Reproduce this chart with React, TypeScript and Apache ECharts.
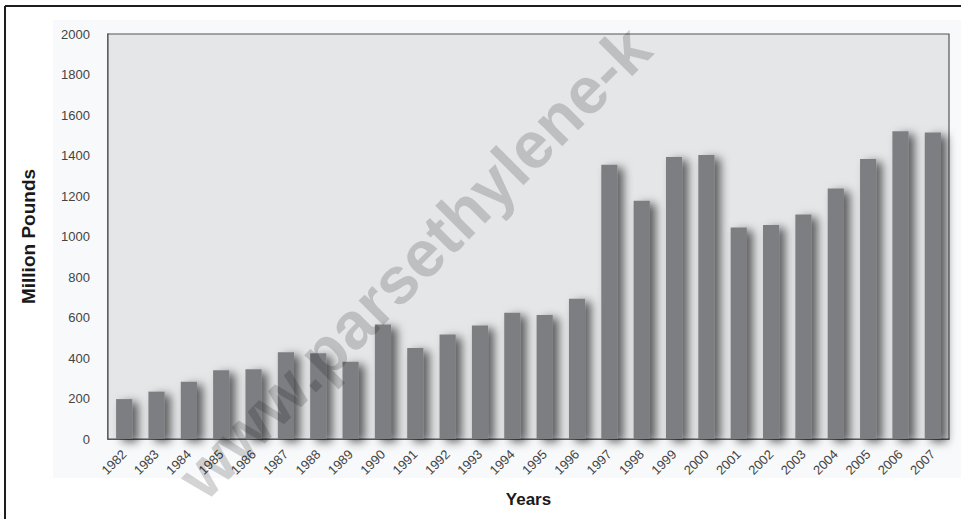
import React, { useEffect, useRef } from "react";
import * as echarts from "echarts";

const years = [
  "1982", "1983", "1984", "1985", "1986", "1987", "1988", "1989", "1990",
  "1991", "1992", "1993", "1994", "1995", "1996", "1997", "1998", "1999",
  "2000", "2001", "2002", "2003", "2004", "2005", "2006", "2007",
];
const values = [
  197, 234, 283, 340, 345, 429, 423, 381, 565, 450, 516, 561, 623, 612, 692,
  1354, 1176, 1393, 1403, 1045, 1057, 1109, 1237, 1383, 1520, 1513,
];
const yTicks = { min: 0, max: 2000, interval: 200 };
const xName = "Years";
const yName = "Million Pounds";
const watermark = "www.parsethylene-k";

export default function App() {
  const ref = useRef<HTMLDivElement>(null);
  useEffect(() => {
    if (!ref.current) return;
    const chart = echarts.init(ref.current, null, { renderer: "svg" });
    const nameFont = "'Liberation Sans', Arial, sans-serif";
    chart.setOption({
      animation: false,
      backgroundColor: "#ffffff",
      grid: {
        left: 108,
        right: 12,
        top: 34,
        bottom: 80,
        show: true,
        backgroundColor: "#e5e6e8",
        borderColor: "#555555",
        borderWidth: 1.2,
        z: 1,
      },
      graphic: [
        {
          type: "rect",
          z: -10,
          silent: true,
          shape: { x: 53, y: 20, width: 908, height: 458 },
          style: { fill: "#f8f9fa" },
        },
        {
          type: "line",
          silent: true,
          shape: { x1: 5, y1: 6, x2: 961, y2: 6 },
          style: { stroke: "#1e1e1e", lineWidth: 2 },
        },
        {
          type: "line",
          silent: true,
          shape: { x1: 5, y1: 6, x2: 5, y2: 519 },
          style: { stroke: "#1e1e1e", lineWidth: 2 },
        },
        {
          type: "text",
          z: 100,
          silent: true,
          x: 414,
          y: 262,
          rotation: Math.PI / 4,
          style: {
            text: watermark,
            fill: "rgba(0,0,0,0.17)",
            font: "bold 66px 'Liberation Sans', Arial, sans-serif",
            textAlign: "center",
            textVerticalAlign: "middle",
          },
        },
      ],
      xAxis: {
        type: "category",
        data: years,
        name: xName,
        nameLocation: "middle",
        nameGap: 52,
        nameTextStyle: {
          fontFamily: nameFont,
          fontWeight: "bold",
          fontSize: 17,
          color: "#1a1a1a",
        },
        axisLine: { show: true, lineStyle: { color: "#444", width: 1.5 } },
        axisTick: { show: false },
        axisLabel: {
          rotate: 45,
          margin: 13,
          fontSize: 13,
          color: "#444444",
          fontFamily: "'Liberation Sans', Arial, sans-serif",
        },
      },
      yAxis: {
        type: "value",
        min: yTicks.min,
        max: yTicks.max,
        interval: yTicks.interval,
        name: yName,
        nameLocation: "middle",
        nameGap: 70,
        nameRotate: 90,
        nameTextStyle: {
          fontFamily: nameFont,
          fontWeight: "bold",
          fontSize: 19,
          color: "#1a1a1a",
        },
        axisLine: { show: true, lineStyle: { color: "#444", width: 1.5 } },
        axisTick: { show: false },
        axisLabel: {
          margin: 18,
          fontSize: 13,
          color: "#444444",
          fontFamily: "'Liberation Sans', Arial, sans-serif",
          formatter: (v: number) => String(v),
        },
        splitLine: { show: true, lineStyle: { color: "#a6a6a6", width: 1 } },
      },
      series: [
        {
          type: "bar",
          data: values,
          barWidth: "50%",
          itemStyle: {
            color: "#7d7e82",
            shadowBlur: 10,
            shadowOffsetX: 6,
            shadowOffsetY: 3,
            shadowColor: "rgba(0,0,0,0.6)",
          },
        },
      ],
    });
    return () => chart.dispose();
  }, []);
  return (
    <div
      ref={ref}
      style={{ position: "absolute", left: 0, top: 0, width: 961, height: 519 }}
    />
  );
}
